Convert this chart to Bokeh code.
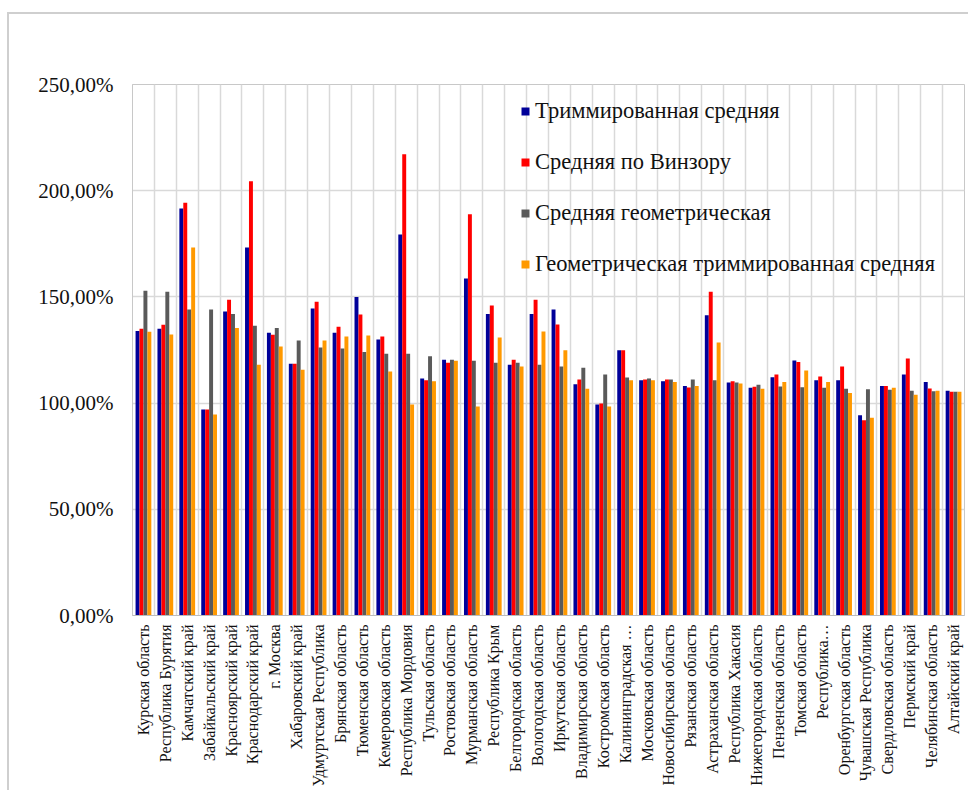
from bokeh.plotting import figure
from bokeh.models import ColumnDataSource, FactorRange, FixedTicker, Legend, LegendItem, Range1d
from bokeh.transform import dodge
from bokeh.embed import file_html
from bokeh.resources import INLINE
from math import pi

regions = [
    "Курская область", "Республика Бурятия", "Камчатский край", "Забайкальский край",
    "Красноярский край", "Краснодарский край", "г. Москва", "Хабаровский край",
    "Удмуртская Республика", "Брянская область", "Тюменская область", "Кемеровская область",
    "Республика Мордовия", "Тульская область", "Ростовская область", "Мурманская область",
    "Республика Крым", "Белгородская область", "Вологодская область", "Иркутская область",
    "Владимирская область", "Костромская область", "Калининградская …", "Московская область",
    "Новосибирская область", "Рязанская область", "Астраханская область", "Республика Хакасия",
    "Нижегородская область", "Пензенская область", "Томская область", "Республика…",
    "Оренбургская область", "Чувашская Республика", "Свердловская область", "Пермский край",
    "Челябинская область", "Алтайский край",
]

trimmed_mean = [134.0, 135.0, 191.6, 97.0, 143.1, 173.3, 133.1, 118.5, 144.5, 133.1,
                150.0, 129.9, 179.4, 111.6, 120.4, 158.7, 141.9, 118.0, 141.9, 144.1,
                108.9, 99.3, 124.9, 110.8, 110.3, 108.0, 141.4, 109.7, 107.2, 112.2,
                120.1, 110.8, 110.8, 94.3, 108.1, 113.5, 109.9, 105.8]
winsor_mean = [135.0, 136.9, 194.3, 97.0, 148.6, 204.5, 132.2, 118.5, 147.7, 135.9,
               141.7, 131.4, 217.2, 110.8, 119.0, 188.9, 145.9, 120.4, 148.6, 137.0,
               111.1, 99.8, 124.9, 111.1, 111.1, 107.4, 152.4, 110.3, 107.7, 113.5,
               119.4, 112.5, 117.2, 91.9, 108.1, 121.0, 106.9, 105.3]
geometric_mean = [152.9, 152.4, 144.1, 144.1, 141.9, 136.4, 135.4, 129.5, 126.2, 125.7,
                  124.0, 123.2, 123.2, 122.1, 120.4, 119.9, 119.0, 119.0, 118.0, 117.2,
                  116.6, 113.5, 112.0, 111.6, 111.1, 111.1, 110.8, 109.7, 108.6, 107.8,
                  107.5, 107.2, 106.7, 106.5, 106.3, 105.8, 105.6, 105.3]
geo_trimmed_mean = [133.6, 132.3, 173.3, 94.6, 135.4, 118.0, 126.6, 115.7, 129.5, 131.4,
                    131.8, 114.9, 99.3, 110.3, 119.9, 98.4, 130.9, 117.2, 133.7, 124.9,
                    106.7, 98.4, 110.8, 110.8, 109.9, 108.0, 128.5, 109.2, 106.7, 109.9,
                    115.3, 109.9, 104.8, 93.1, 107.2, 103.9, 105.8, 105.3]

series_names = ["Триммированная средняя", "Средняя по Винзору",
                "Средняя геометрическая", "Геометрическая триммированная средняя"]
series_colors = ["#000099", "#ff0000", "#5a5a5a", "#ff9900"]

y_ticks = [0, 50, 100, 150, 200, 250]
y_tick_labels = ["0,00%", "50,00%", "100,00%", "150,00%", "200,00%", "250,00%"]

SERIF = "Times New Roman"

source = ColumnDataSource(data=dict(
    region=regions, s0=trimmed_mean, s1=winsor_mean, s2=geometric_mean, s3=geo_trimmed_mean))

p = figure(
    x_range=FactorRange(*regions, range_padding=0),
    y_range=Range1d(0, 250),
    width=961, height=778,
    output_backend="svg", toolbar_location=None,
    min_border_left=123, min_border_right=6, min_border_top=70, min_border_bottom=177,
    background_fill_color="white", border_fill_color="white",
)
# outer chart frame (light grey, like the spreadsheet chart area border)
p.styles = {"border-left": "2px solid #cfcfcf", "border-top": "2px solid #cfcfcf",
            "margin-left": "7px", "margin-top": "12px"}

bar_w = 0.18
offsets = [-0.27, -0.09, 0.09, 0.27]
renderers = []
for i, col in enumerate(["s0", "s1", "s2", "s3"]):
    r = p.vbar(x=dodge("region", offsets[i], range=p.x_range), top=col, width=bar_w,
               source=source, fill_color=series_colors[i], line_color=None)
    renderers.append(r)

p.outline_line_color = "#c8c8c8"
p.outline_line_width = 1

# grids
p.ygrid.ticker = FixedTicker(ticks=y_ticks)
p.ygrid.grid_line_color = "#d9d9d9"
p.ygrid.grid_line_width = 1.5
p.xgrid.ticker = FixedTicker(ticks=list(range(len(regions) + 1)))
p.xgrid.grid_line_color = "#d9d9d9"
p.xgrid.grid_line_width = 1.5

# y axis
p.yaxis.ticker = FixedTicker(ticks=y_ticks)
p.yaxis.major_label_overrides = {t: l for t, l in zip(y_ticks, y_tick_labels)}
p.yaxis.axis_line_color = "#c8c8c8"
p.yaxis.major_tick_line_color = None
p.yaxis.minor_tick_line_color = None
p.yaxis.major_tick_out = 0
p.yaxis.major_label_standoff = 19
p.yaxis.major_label_text_font = SERIF
p.yaxis.major_label_text_font_size = "21px"
p.yaxis.major_label_text_color = "#111111"

# x axis
p.xaxis.axis_line_color = "#bcbcbc"
p.xaxis.major_tick_line_color = None
p.xaxis.minor_tick_line_color = None
p.xaxis.major_tick_out = 0
p.xaxis.major_label_orientation = pi / 2
p.xaxis.major_label_standoff = 9
p.xaxis.major_label_text_font = SERIF
p.xaxis.major_label_text_font_size = "16px"
p.xaxis.major_label_text_color = "#111111"

legend = Legend(
    items=[LegendItem(label=n, renderers=[r]) for n, r in zip(series_names, renderers)],
    location=(388, 338),
    orientation="vertical",
    background_fill_alpha=0,
    border_line_color=None,
    glyph_width=10, glyph_height=10,
    label_standoff=5,
    label_text_font=SERIF,
    label_text_font_size="22.5px",
    label_text_color="#111111",
    spacing=25,
    padding=0,
    margin=0,
)
p.add_layout(legend)

open("out.html", "w").write(file_html(p, INLINE))
